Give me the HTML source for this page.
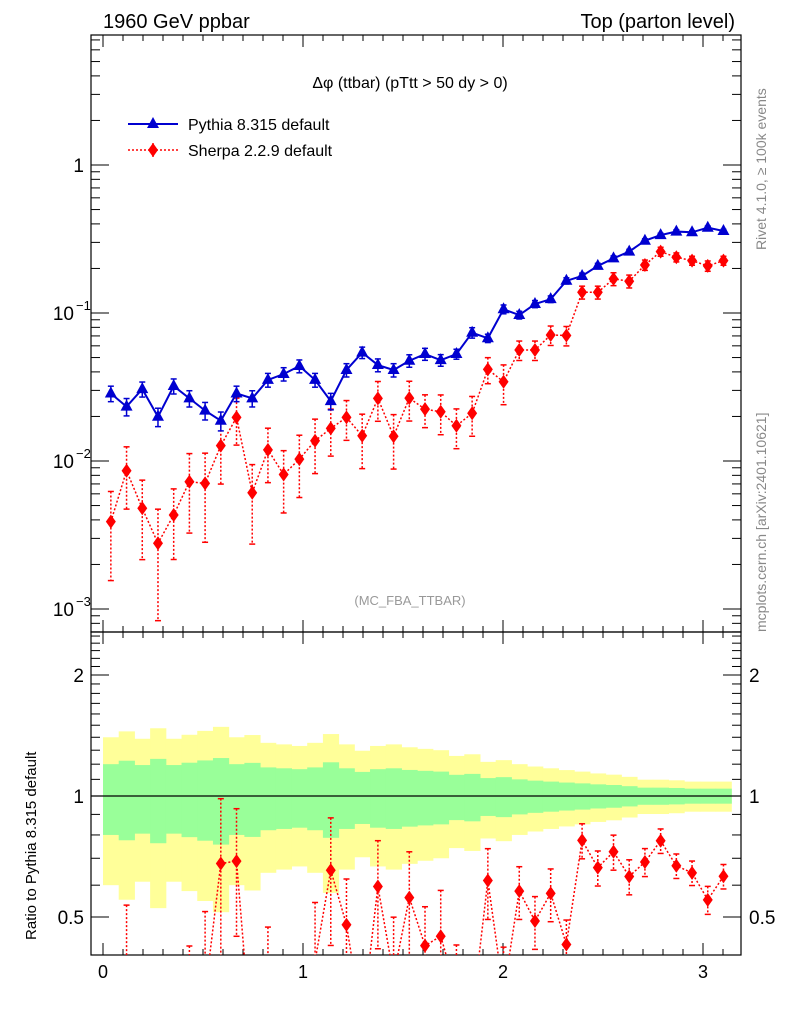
<!DOCTYPE html>
<html><head><meta charset="utf-8"><style>
html,body{margin:0;padding:0;background:#fff;width:786px;height:1024px;overflow:hidden;}
svg{display:block;font-family:"Liberation Sans",sans-serif;}
</style></head><body>
<svg id="c" width="786" height="1024" viewBox="0 0 786 1024">
<text x="103" y="28" font-size="20">1960 GeV ppbar</text>
<text x="735" y="28" font-size="20" text-anchor="end">Top (parton level)</text>
<text x="410" y="88" font-size="16" text-anchor="middle">Δφ (ttbar) (pTtt &gt; 50 dy &gt; 0)</text>
<text x="410" y="605" font-size="13" fill="#999" text-anchor="middle">(MC_FBA_TTBAR)</text>
<text transform="translate(766,250) rotate(-90)" font-size="14" fill="#888">Rivet 4.1.0, ≥ 100k events</text>
<text transform="translate(766,632) rotate(-90)" font-size="14" fill="#888">mcplots.cern.ch [arXiv:2401.10621]</text>
<text transform="translate(36,940) rotate(-90)" font-size="15">Ratio to Pythia 8.315 default</text>
<g>
<g>
<line x1="128" y1="124" x2="178" y2="124" stroke="#0000d0" stroke-width="2"/>
<polygon points="153,117 159,128 147,128" fill="#0000d0"/>
<text x="188" y="130" font-size="16">Pythia 8.315 default</text></g>
<g>
<line x1="128" y1="150" x2="178" y2="150" stroke="#f00" stroke-width="1.5" stroke-dasharray="2,2"/>
<line x1="153" y1="143" x2="153" y2="157" stroke="#f00" stroke-width="1.5" stroke-dasharray="2,2"/>
<polygon points="153,143 158,150 153,157 148,150" fill="#f00"/>
<text x="188" y="156" font-size="16">Sherpa 2.2.9 default</text></g>
</g>
<g id="g"></g>
</svg>
<script>
const pythia=[0.0286,0.0233,0.0306,0.0199,0.0321,0.0265,0.0219,0.0187,0.0286,0.0265,0.0353,0.0387,0.0438,0.0353,0.0254,0.0412,0.054,0.0445,0.0412,0.0476,0.0528,0.048,0.0528,0.0736,0.0675,0.106,0.0969,0.115,0.124,0.165,0.178,0.208,0.234,0.26,0.308,0.336,0.355,0.351,0.377,0.358];
const pythiaErr=[0.20,0.224,0.194,0.237,0.194,0.21,0.226,0.243,0.20,0.209,0.178,0.172,0.166,0.178,0.213,0.172,0.148,0.166,0.172,0.161,0.155,0.15,0.129,0.135,0.108,0.114,0.10,0.092,0.086,0.08,0.075,0.069,0.065,0.058,0.049,0.049,0.047,0.043,0.043,0.043];
const sherpa=[0.00389,0.0086,0.00479,0.00278,0.00432,0.00724,0.00706,0.0127,0.0197,0.0061,0.0119,0.0081,0.0103,0.0137,0.0166,0.0197,0.0148,0.0265,0.0147,0.0266,0.0224,0.0215,0.0173,0.021,0.0416,0.0343,0.0562,0.0562,0.071,0.0705,0.138,0.138,0.17,0.164,0.211,0.26,0.238,0.226,0.208,0.226];
const sherpaErr=[0.6,0.45,0.55,0.7,0.5,0.55,0.6,0.45,0.35,0.55,0.4,0.45,0.45,0.4,0.35,0.3,0.4,0.3,0.4,0.3,0.25,0.3,0.3,0.3,0.2,0.3,0.15,0.15,0.15,0.15,0.1,0.1,0.1,0.1,0.08,0.07,0.07,0.07,0.08,0.07];
const xTicks=[0,1,2,3];
const yMainTicks=[1,0.1,0.01,0.001];
const yMainLabels=["1","10","10","10"];
const yMainExp=["","−1","−2","−3"];
const yRatioTicks=[0.5,1,2];
const yRatioLabels=["0.5","1","2"];

const NS="http://www.w3.org/2000/svg";
const g=document.getElementById('g');
function el(t,a,p){const e=document.createElementNS(NS,t);for(const k in a)e.setAttribute(k,a[k]);(p||g).appendChild(e);return e;}
const L=91,R=741,T=35,M=632,B=955;
const N=pythia.length, W=Math.PI/N;
const X=v=>103+200*v;
const Y=v=>165-148*Math.log10(v);
const YR=v=>796-121*Math.log2(v);
const defs=el('defs',{});
const cp1=el('clipPath',{id:'cm'},defs);el('rect',{x:L,y:T,width:R-L,height:M-T},cp1);
const cp2=el('clipPath',{id:'cr'},defs);el('rect',{x:L,y:M,width:R-L,height:B-M},cp2);

const bands=el('g',{'clip-path':'url(#cr)'});


for(let i=0;i<N;i++){
  const x0=X(i*W),x1=X((i+1)*W),e=pythiaErr[i];
  const y=el('rect',{x:x0,y:YR(1+2*e),width:x1-x0+0.5,height:YR(Math.max(1-2*e,0.01))-YR(1+2*e),fill:'#ffff99'},bands);
  
  
}
for(let i=0;i<N;i++){
  const x0=X(i*W),x1=X((i+1)*W),e=pythiaErr[i];
  const r=el('rect',{x:x0,y:YR(1+e),width:x1-x0+0.5,height:YR(1-e)-YR(1+e),fill:'#99ff99'},bands);
  
  
}
const one=el('line',{x1:L,x2:R,y1:YR(1),y2:YR(1),stroke:'#000','stroke-width':1.2});



el('rect',{x:L,y:T,width:R-L,height:M-T,fill:'none',stroke:'#000','stroke-width':1.2});
el('rect',{x:L,y:M,width:R-L,height:B-M,fill:'none',stroke:'#000','stroke-width':1.2});

for(let v=0;v<=3.19;v+=0.1){
  const x=X(v);if(x<L||x>R)continue;
  const maj=Math.abs(v-Math.round(v))<1e-6;const len=maj?12:6;
  [[T,1],[M,-1],[M,1],[B,-1]].forEach(([y,d])=>el('line',{x1:x,x2:x,y1:y,y2:y+d*len,stroke:'#000'}));
}
xTicks.forEach(v=>{const t=el('text',{x:X(v),y:978,'font-size':18,'text-anchor':'middle'});t.textContent=v;

});
for(let d=-4;d<=0;d++)for(let m=1;m<10;m++){
  const v=m*Math.pow(10,d),y=Y(v);if(y<T||y>M)continue;const len=m==1?18:9;
  el('line',{x1:L,x2:L+len,y1:y,y2:y,stroke:'#000'});el('line',{x1:R,x2:R-len,y1:y,y2:y,stroke:'#000'});
}
yMainTicks.forEach((v,i)=>{const t=el('text',{x:i==0?84:74,y:Y(v)+7,'font-size':19,'text-anchor':'end'});t.textContent=yMainLabels[i];


if(yMainExp[i]){const s=el('text',{x:76,y:Y(v)-3,'font-size':13});s.textContent=yMainExp[i];}});
for(let v=0.4;v<=2.6;v+=0.1){const y=YR(v);if(y<M||y>B)continue;
  const maj=[0.5,1,2].some(q=>Math.abs(q-v)<1e-6);const len=maj?18:9;
  el('line',{x1:L,x2:L+len,y1:y,y2:y,stroke:'#000'});el('line',{x1:R,x2:R-len,y1:y,y2:y,stroke:'#000'});}
yRatioTicks.forEach((v,i)=>{[[84,'end'],[749,'start']].forEach(([x,a])=>{const t=el('text',{x:x,y:YR(v)+7,'font-size':19,'text-anchor':a});t.textContent=yRatioLabels[i];

});});

function series(vals,errs,ycb,color,dash,marker,clip,name){
  const grp=el('g',{'clip-path':clip});
  
  
  const pts=vals.map((v,i)=>[X((i+0.5)*W),ycb(v)]);
  el('polyline',{points:pts.map(p=>p.join(',')).join(' '),fill:'none',stroke:color,'stroke-width':dash?1.5:2,'stroke-dasharray':dash||'none'},grp);
  vals.forEach((v,i)=>{const x=pts[i][0];const lo=Math.max(v*(1-errs[i]),v*0.01);
    const y1=ycb(v*(1+errs[i])),y2=ycb(lo);
    el('line',{x1:x,x2:x,y1:y1,y2:y2,stroke:color,'stroke-width':1.5,'stroke-dasharray':dash||'none'},grp);
    el('line',{x1:x-3,x2:x+3,y1:y1,y2:y1,stroke:color,'stroke-width':1.5},grp);
    el('line',{x1:x-3,x2:x+3,y1:y2,y2:y2,stroke:color,'stroke-width':1.5},grp);
    const y=pts[i][1];
    const m=marker=='tri'?el('polygon',{points:`${x},${y-7} ${x+6},${y+4} ${x-6},${y+4}`,fill:color},grp)
      :el('polygon',{points:`${x},${y-7} ${x+5},${y} ${x},${y+7} ${x-5},${y}`,fill:color},grp);
    
    
  });
}
series(sherpa,sherpaErr,Y,'#f00','2,2','dia','url(#cm)','sherpa-series');
series(pythia,pythiaErr.map(e=>e*0.6),Y,'#0000d0',null,'tri','url(#cm)','pythia-series');
const ratio=sherpa.map((v,i)=>v/pythia[i]);
series(ratio,sherpaErr,YR,'#f00','2,2','dia','url(#cr)','sherpa-ratio-series');
</script>
</body></html>
